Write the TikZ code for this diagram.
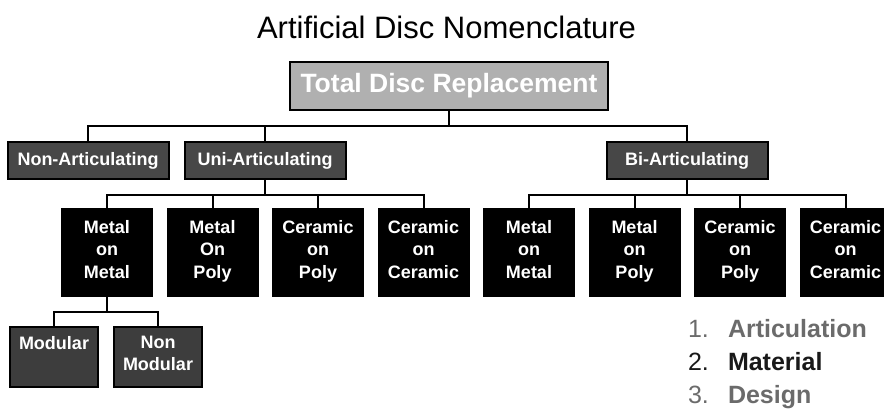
\documentclass[tikz,border=0pt]{standalone}
\usepackage{fontspec}
\setmainfont{Liberation Sans}
\usetikzlibrary{positioning}

\begin{document}
\begin{tikzpicture}[x=1pt,y=-1pt,line width=2pt,node distance=105.5pt,
    main node/.style={rectangle,draw,inner sep=0pt,align=center,text=white,font=\fontsize{18}{22.5}\selectfont\bfseries,
                      execute at begin node=\strut,execute at end node=\strut},
    top node/.style={main node,fill=black!31,minimum width=318pt,minimum height=48pt,font=\fontsize{26.5}{30}\selectfont\bfseries},
    class node/.style={main node,fill=black!72,minimum width=161pt,minimum height=37pt},
    pair node/.style={main node,fill=black,minimum width=90pt,minimum height=87pt},
    design node/.style={main node,fill=black!76,minimum width=88pt,minimum height=60pt,font=\fontsize{18}{22}\selectfont\bfseries},
    list node/.style={anchor=base west,inner sep=0pt,font=\fontsize{25}{30}\selectfont},
    tree/.style={to path={(\tikztostart.south) -- ++(0,-15pt) -| (\tikztotarget.north)}}]

      \useasboundingbox (0,0) rectangle (884,413);

      \node[anchor=base,inner sep=0pt,font=\fontsize{31}{36}\selectfont] (0) at (446.5,38) {Artificial Disc Nomenclature};
      \node[top node] (1) at (449,86) {Total Disc Replacement};
      \node[class node] (2) at (88,160.5) {Non-Articulating};
      \node[class node] (3) at (265,160.5) {Uni-Articulating};
      \node[class node] (4) at (687,160.5) {Bi-Articulating};
      \node[pair node] (5) at (107,252.5) {Metal\\on\\Metal};
      \node[pair node] (6) [right of=5] {Metal\\On\\Poly};
      \node[pair node] (7) [right of=6] {Ceramic\\on\\Poly};
      \node[pair node] (8) [right of=7] {Ceramic\\on\\Ceramic};
      \node[pair node] (9) at (529,252.5) {Metal\\on\\Metal};
      \node[pair node] (10) [right of=9] {Metal\\on\\Poly};
      \node[pair node] (11) [right of=10] {Ceramic\\on\\Poly};
      \node[pair node] (12) [right of=11] {Ceramic\\on\\Ceramic};
      \node[design node] (13) at (54,357) {Modular\\~};
      \node[design node] (14) [right of=13,node distance=104pt] {Non\\Modular};
      \node[list node,text=black!58] (15) at (687,337) {\makebox[40pt][l]{1.}\textbf{Articulation}};
      \node[list node,text=black!90] (16) at (687,370) {\makebox[40pt][l]{2.}\textbf{Material}};
      \node[list node,text=black!58] (17) at (687,403) {\makebox[40pt][l]{3.}\textbf{Design}};
      \path
        (1) edge[tree] (2)
        (1) edge[tree] (3)
        (1) edge[tree] (4)
        (3) edge[tree] (5)
        (3) edge[tree] (6)
        (3) edge[tree] (7)
        (3) edge[tree] (8)
        (4) edge[tree] (9)
        (4) edge[tree] (10)
        (4) edge[tree] (11)
        (4) edge[tree] (12)
        (5) edge[tree] (13)
        (5) edge[tree] (14);
    \end{tikzpicture}
\end{document}
